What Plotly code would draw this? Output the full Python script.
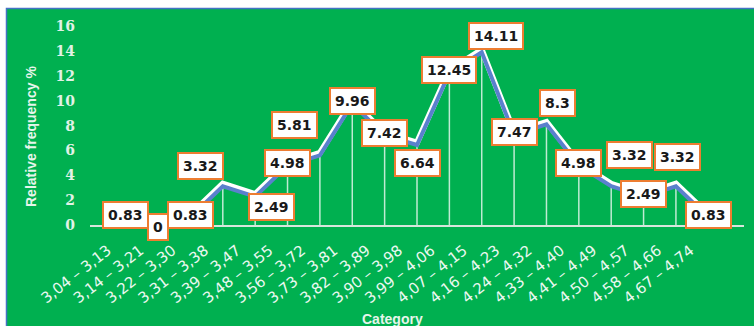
import plotly.graph_objects as go

categories = ["3,04 – 3,13", "3,14 – 3,21", "3,22 – 3,30", "3,31 – 3,38", "3,39 – 3,47",
              "3,48 – 3,55", "3,56 – 3,72", "3,73 – 3,81", "3,82 – 3,89", "3,90 – 3,98",
              "3,99 – 4,06", "4,07 – 4,15", "4,16 – 4,23", "4,24 – 4,32", "4,33 – 4,40",
              "4,41 – 4,49", "4,50 – 4,57", "4,58 – 4,66", "4,67 – 4,74"]
values = [0.83, 0, 0.83, 3.32, 2.49, 4.98, 5.81, 9.96, 7.42, 6.64,
          12.45, 14.11, 7.47, 8.3, 4.98, 3.32, 2.49, 3.32, 0.83]
y_ticks = [0, 2, 4, 6, 8, 10, 12, 14, 16]

# label offsets in pixels (xshift, yshift)
label_dx = [0, 0, 0, -22, 16, 0, -25, 0, 0, 0, 0, 14, 0, 11, 0, 18, 0, 2, 0]
label_dy = [0, -2, 0, 18, -13, 0, 28, 0, 0, -20, 0, 14, 0, 19, 0, 29, 0, 27, 0]

W, H = 754, 326
ml, mr, mt, mb = 90, 10, 20, 101
pw, ph = W - ml - mr, H - mt - mb
ymax = 16.5
px_per_unit = ph / ymax

GREEN = "rgb(0,176,80)"
fig = go.Figure()

# drop lines
fig.add_trace(go.Scatter(
    x=categories, y=values, mode="markers",
    marker=dict(size=1, color="rgba(0,0,0,0)"),
    error_y=dict(type="data", symmetric=False, array=[0] * len(values),
                 arrayminus=values, color="rgba(255,255,255,0.75)", thickness=1.5, width=0),
    hoverinfo="skip", showlegend=False))

# shadow line (shifted a few pixels down via overlay axis)
shift = 2.5 / px_per_unit
fig.add_trace(go.Scatter(
    x=categories, y=values, mode="lines", yaxis="y2",
    line=dict(color="rgb(90,128,205)", width=4), showlegend=False, hoverinfo="skip"))
fig.add_trace(go.Scatter(
    x=categories, y=values, mode="lines",
    line=dict(color="white", width=6), showlegend=False))

for i, (c, v) in enumerate(zip(categories, values)):
    fig.add_annotation(x=c, y=v, xref="x", yref="y", text=f"<b>{v:g}</b>",
                       showarrow=False, xshift=label_dx[i], yshift=label_dy[i],
                       bgcolor="white", bordercolor="rgb(237,125,49)", borderwidth=2,
                       borderpad=4, font=dict(family="DejaVu Sans", size=14, color="rgb(25,25,25)"))

fig.add_annotation(xref="paper", yref="paper", x=(31 - ml) / pw, y=(H - mb - 137) / ph,
                   xanchor="center", yanchor="middle",
                   text="<b>Relative frequency %</b>", textangle=-90, showarrow=False,
                   font=dict(family="Liberation Sans", size=14, color="rgb(230,245,235)"))
fig.add_annotation(xref="paper", yref="paper", x=(392 - ml) / pw, y=-(319 - (H - mb)) / ph,
                   xanchor="center", yanchor="middle",
                   text="<b>Category</b>", showarrow=False,
                   font=dict(family="Liberation Sans", size=14, color="rgb(230,245,235)"))

# green panel with blue border
fig.add_shape(type="rect", xref="paper", yref="paper", layer="below",
              x0=(6.5 - ml) / pw, x1=(W + 5 - ml) / pw,
              y0=-(H + 5 - (H - mb)) / ph, y1=(H - mb - 8.5) / ph,
              fillcolor=GREEN, line=dict(color="rgb(68,114,196)", width=1.5))

fig.update_layout(
    width=W, height=H, margin=dict(l=ml, r=mr, t=mt, b=mb),
    paper_bgcolor="white", plot_bgcolor="rgba(0,0,0,0)",
    xaxis=dict(type="category", tickangle=-38, showgrid=False, showline=True,
               linecolor="rgb(215,230,220)", linewidth=2, ticks="", automargin=False,
               ticklabelshift=-18, ticklabelstandoff=9,
               tickfont=dict(family="DejaVu Sans", size=15, color="rgb(235,248,240)")),
    yaxis=dict(range=[0, ymax], tickvals=y_ticks, showgrid=False, zeroline=False,
               showline=False, ticks="", ticklabelstandoff=14, automargin=False,
               tickfont=dict(family="DejaVu Serif", size=14, color="rgb(225,242,230)", weight="bold")),
    yaxis2=dict(range=[shift, ymax + shift], overlaying="y", visible=False),
)

fig.write_html("out.html", config={"displayModeBar": False},
               post_script="document.body.style.margin='0';document.body.style.overflow='hidden';")
